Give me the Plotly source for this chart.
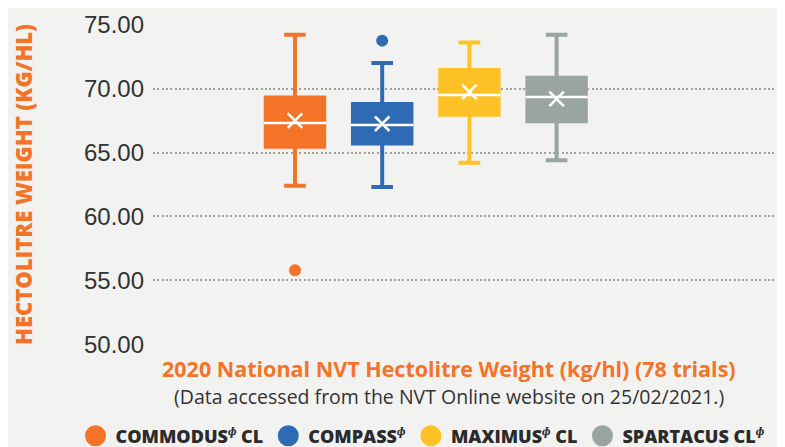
import plotly.graph_objects as go

# ---- data ----
varieties = ["COMMODUS", "COMPASS", "MAXIMUS", "SPARTACUS"]
legend_labels = [
    "COMMODUS<sup><i>ɸ</i></sup> CL",
    "COMPASS<sup><i>ɸ</i></sup>",
    "MAXIMUS<sup><i>ɸ</i></sup> CL",
    "SPARTACUS CL<sup><i>ɸ</i></sup>",
]
lower_whisker = [62.4, 62.3, 64.2, 64.4]
q1 = [65.45, 65.7, 67.95, 67.45]
median = [67.3, 67.15, 69.5, 69.35]
q3 = [69.3, 68.8, 71.45, 70.85]
upper_whisker = [74.2, 72.0, 73.6, 74.2]
mean = [67.5, 67.25, 69.75, 69.2]
outlier_variety = ["COMMODUS", "COMPASS"]
outlier_value = [55.8, 73.75]
colors = ["#F37329", "#2E6BB4", "#FEC126", "#9AA5A1"]
y_ticks = [50, 55, 60, 65, 70, 75]

BG = "#F2F2F0"
ORANGE = "#F37329"

fig = go.Figure()

for i, v in enumerate(varieties):
    fig.add_trace(go.Box(
        x=[v], q1=[q1[i]], median=[median[i]], q3=[q3[i]],
        lowerfence=[lower_whisker[i]], upperfence=[upper_whisker[i]],
        fillcolor=colors[i], line=dict(color=colors[i], width=4),
        width=0.67, whiskerwidth=0.37, boxpoints=False,
        showlegend=False, hoverinfo="skip",
    ))

# median line (white)
fig.add_trace(go.Scatter(
    x=varieties, y=median, mode="markers", showlegend=False,
    marker=dict(symbol="line-ew", size=44.5, line=dict(color="white", width=2.5)),
    hoverinfo="skip",
))
# mean marker (white X)
fig.add_trace(go.Scatter(
    x=varieties, y=mean, mode="markers", showlegend=False,
    marker=dict(symbol="x-thin", size=14.5, line=dict(color="white", width=2.5)),
    hoverinfo="skip",
))
# outliers
for v, val in zip(outlier_variety, outlier_value):
    c = colors[varieties.index(v)]
    fig.add_trace(go.Scatter(
        x=[v], y=[val], mode="markers", showlegend=False,
        marker=dict(symbol="circle", size=12, color=c), hoverinfo="skip",
    ))
# legend entries
for i, v in enumerate(varieties):
    fig.add_trace(go.Scatter(
        x=[None], y=[None], mode="markers", name=legend_labels[i],
        marker=dict(symbol="circle", size=30, color=colors[i],
                    line=dict(color=colors[i], width=5)),
    ))

fig.update_layout(
    width=777, height=439,
    margin=dict(l=145, r=0, t=16, b=102, autoexpand=False),
    paper_bgcolor=BG, plot_bgcolor=BG,
    boxmode="overlay",
    showlegend=True,
    legend=dict(
        orientation="h", xref="paper", yref="paper",
        x=-0.1226, xanchor="left", y=-0.2835, yanchor="middle",
        font=dict(family="Open Sans", size=18, color="#2B2B2B", weight=800),
        itemwidth=30, bgcolor="rgba(0,0,0,0)",
    ),
    xaxis=dict(
        type="category", categoryorder="array", categoryarray=varieties,
        range=[-1.628, 5.619], showticklabels=False, showgrid=False,
        zeroline=False, showline=False, automargin=False,
    ),
    yaxis=dict(
        range=[49.95, 75.05], tickvals=y_ticks,
        ticktext=[f"{t:.2f}" for t in y_ticks],
        tickfont=dict(family="Liberation Sans", size=24, color="#333333"),
        ticklabelstandoff=8, automargin=False,
        showgrid=True, gridcolor="#A0A0A0", griddash="2px,2.3px", gridwidth=1.5,
        zeroline=False, showline=False,
        title=dict(text="HECTOLITRE WEIGHT (KG/HL)", standoff=53,
                   font=dict(family="Open Sans", size=22, color=ORANGE, weight=800)),
    ),
    annotations=[
        dict(text="2020 National NVT Hectolitre Weight (kg/hl) (78 trials)",
             xref="paper", yref="paper", x=0.469, y=-0.0717,
             xanchor="center", yanchor="middle", showarrow=False,
             font=dict(family="Open Sans", size=21.5, color=ORANGE, weight=700)),
        dict(text="(Data accessed from the NVT Online website on 25/02/2021.)",
             xref="paper", yref="paper", x=0.469, y=-0.16,
             xanchor="center", yanchor="middle", showarrow=False,
             font=dict(family="Open Sans", size=19.5, color="#333333")),
    ],
)

fig.write_html("out.html")
